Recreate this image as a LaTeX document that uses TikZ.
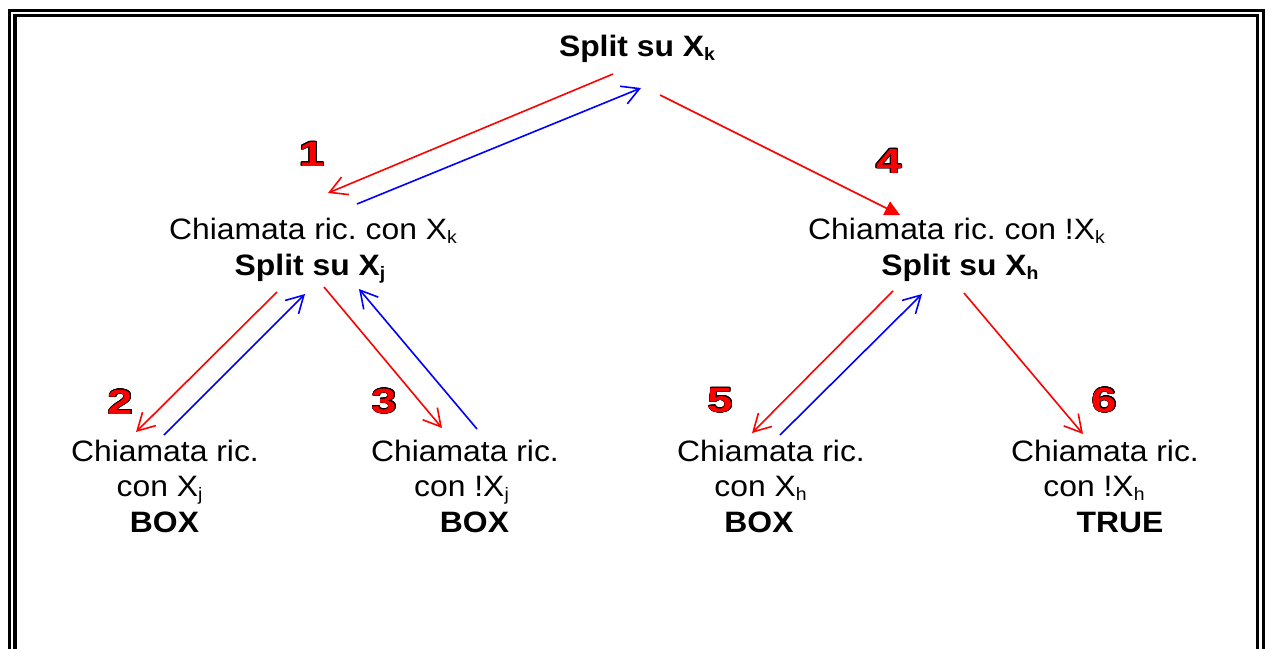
\documentclass[tikz,border=0pt]{standalone}
\usepackage{fontspec}
\setmainfont{Liberation Sans}[FakeStretch=1.08]
\newfontfamily\numfont{Liberation Sans}[FakeStretch=1.3]
\usepackage{contour}
\contourlength{0.8pt}
\usetikzlibrary{arrows.meta}
\frenchspacing
\newcommand\subs[1]{\raisebox{-4pt}{\fontsize{18}{18}\selectfont #1}}
\tikzset{
  txt/.style={inner sep=0pt, anchor=base, font=\frenchspacing\fontsize{29.5}{35}\selectfont},
  btxt/.style={inner sep=0pt, anchor=base, font=\frenchspacing\fontsize{29.5}{35}\selectfont\bfseries},
  num/.style={inner sep=0pt, anchor=base, text=red, font=\numfont\bfseries\fontsize{35}{35}\selectfont},
  redarr/.style={draw=red, line width=1.6pt, -{Straight Barb[length=17pt,width=19pt]}},
  bluearr/.style={draw=blue, line width=1.6pt, -{Straight Barb[length=17pt,width=19pt]}},
  redtri/.style={draw=red, line width=1.6pt, -{Triangle[length=15pt,width=15pt]}},
  frameline/.style={draw=black, line width=3.3pt}
}
\begin{document}
\begin{tikzpicture}[x=1pt,y=-1pt]
\useasboundingbox (0,0) rectangle (1265,648);
% double frame (open at the bottom edge of the picture)
\draw[frameline] (9.5,660) -- (9.5,10.3) -- (1263.3,10.3) -- (1263.3,660);
\draw[frameline] (15,660) -- (15,15.5) -- (1257.5,15.5) -- (1257.5,660);

% root
\node[btxt] (root) at (637,56) {Split su X\subs{k}};

% second level
\node[txt]  (lcall)  at (313,239) {Chiamata ric. con X\subs{k}};
\node[btxt] (lsplit) at (310,275) {Split su X\subs{j}};
\node[txt]  (rcall)  at (956.5,239) {Chiamata ric. con !X\subs{k}};
\node[btxt] (rsplit) at (960,275) {Split su X\subs{h}};

% leaves
\node[txt]  (l1a) at (165,461)   {Chiamata ric.};
\node[txt]  (l1b) at (159.5,496) {con X\subs{j}};
\node[btxt] (l1c) at (164.5,532) {BOX};
\node[txt]  (l2a) at (465,461)   {Chiamata ric.};
\node[txt]  (l2b) at (461.5,496) {con !X\subs{j}};
\node[btxt] (l2c) at (474.5,532) {BOX};
\node[txt]  (l3a) at (771,461)   {Chiamata ric.};
\node[txt]  (l3b) at (760.5,496) {con X\subs{h}};
\node[btxt] (l3c) at (759,532)   {BOX};
\node[txt]  (l4a) at (1105,461)  {Chiamata ric.};
\node[txt]  (l4b) at (1094,496)  {con !X\subs{h}};
\node[btxt] (l4c) at (1120,532)  {TRUE};

% step numbers
\node[num] (n1) at (312,166)   {\contour{black}{1}};
\node[num] (n4) at (889,173)   {\contour{black}{4}};
\node[num] (n2) at (120.5,414) {\contour{black}{2}};
\node[num] (n3) at (384.5,413) {\contour{black}{3}};
\node[num] (n5) at (720.5,412) {\contour{black}{5}};
\node[num] (n6) at (1104.5,412){\contour{black}{6}};

% arrow end points
\coordinate (r1s) at (613,74);   \coordinate (r1e) at (328,193);
\coordinate (b1s) at (357,204);  \coordinate (b1e) at (641,88);
\coordinate (r4s) at (660,95);   \coordinate (r4e) at (900,215);
\coordinate (r2s) at (277,292);  \coordinate (r2e) at (136,432);
\coordinate (b2s) at (164,435);  \coordinate (b2e) at (305,294);
\coordinate (r3s) at (324,287);  \coordinate (r3e) at (442,428);
\coordinate (b3s) at (477,429);  \coordinate (b3e) at (359,289);
\coordinate (r5s) at (893,291);  \coordinate (r5e) at (752,433);
\coordinate (b5s) at (780,435);  \coordinate (b5e) at (922,294);
\coordinate (r6s) at (964,293);  \coordinate (r6e) at (1083,434);

\draw[redarr]  (r1s) -- (r1e);
\draw[bluearr] (b1s) -- (b1e);
\draw[redtri]  (r4s) -- (r4e);
\draw[redarr]  (r2s) -- (r2e);
\draw[bluearr] (b2s) -- (b2e);
\draw[redarr]  (r3s) -- (r3e);
\draw[bluearr] (b3s) -- (b3e);
\draw[redarr]  (r5s) -- (r5e);
\draw[bluearr] (b5s) -- (b5e);
\draw[redarr]  (r6s) -- (r6e);
\end{tikzpicture}
\end{document}
